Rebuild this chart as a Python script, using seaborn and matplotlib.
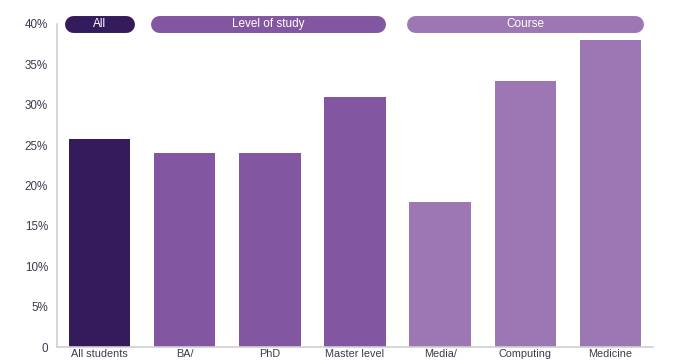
import matplotlib
matplotlib.use("Agg")
import matplotlib.pyplot as plt
import seaborn as sns
import pandas as pd
import numpy as np
from matplotlib.ticker import FixedLocator

categories = ["All students", "BA/", "PhD", "Master level", "Media/", "Computing", "Medicine"]
values = [25.7, 24.0, 24.0, 31.0, 18.0, 33.0, 38.0]
groups = ["All", "Level of study", "Level of study", "Level of study", "Course", "Course", "Course"]
group_names = ["All", "Level of study", "Course"]
group_colors = {"All": "#341b5b", "Level of study": "#8356a1", "Course": "#9d77b4"}
yticks = [0, 5, 10, 15, 20, 25, 30, 35, 40]
ytick_labels = ["0", "5%", "10%", "15%", "20%", "25%", "30%", "35%", "40%"]

sns.set_style("white")
plt.rcParams["font.family"] = ["Liberation Sans", "DejaVu Sans"]

df = pd.DataFrame({"category": categories, "value": values, "group": groups})

fig = plt.figure(figsize=(6.8, 3.6), dpi=100)
ax = fig.add_axes([57/680, 13/360, (653-57)/680, (347-24)/360])

sns.barplot(data=df, x="category", y="value", hue="group", palette=group_colors,
            dodge=False, width=0.72, legend=False, ax=ax, saturation=1, linewidth=0)

ax.set_xlim(-0.5, len(categories) - 0.5)
ax.set_ylim(0, 40)
ax.set_yticks(yticks)
ax.set_yticklabels(ytick_labels)
ax.set_xlabel("")
ax.set_ylabel("")

txt_color = "#3b3b4f"
ax.tick_params(axis="y", length=0, pad=6.5, labelsize=8.4, labelcolor=txt_color)
ax.tick_params(axis="x", which="major", length=0, pad=1.5, labelsize=7.8, labelcolor=txt_color)
ax.xaxis.set_minor_locator(FixedLocator(np.arange(0.5, len(categories), 1.0)))
ax.tick_params(axis="x", which="minor", direction="in", length=5, width=0.8, color="#cccccc")

for s in ["top", "right"]:
    ax.spines[s].set_visible(False)
for s in ["left", "bottom"]:
    ax.spines[s].set_color("#d0d0d0")
    ax.spines[s].set_linewidth(1.2)

# group header pills
pill_spans = {"All": (-0.414, 0.405), "Level of study": (0.601, 3.362), "Course": (3.609, 6.39)}
inset = 0.1
for g in group_names:
    x0, x1 = pill_spans[g]
    ax.plot([x0 + inset, x1 - inset], [40, 40], color=group_colors[g], lw=12.2,
            solid_capstyle="round", clip_on=False, zorder=5)
    ax.text((x0 + x1) / 2, 40, g, color="white", ha="center", va="center",
            fontsize=8.5, zorder=6, clip_on=False)

fig.savefig("out.png", dpi=100)
